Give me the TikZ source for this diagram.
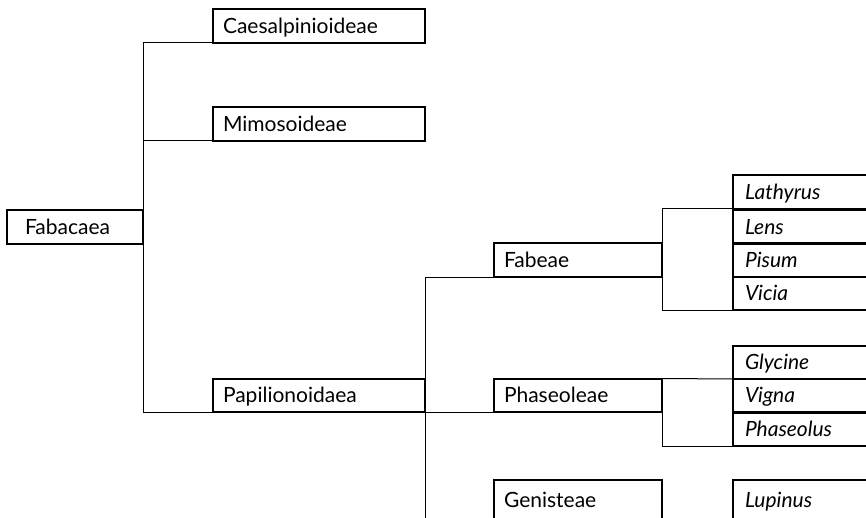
\documentclass[tikz,border=0pt]{standalone}
\usepackage{fontspec}
\setmainfont{Lato}
\tikzset{
  taxon/.style={rectangle, draw=black, line width=2pt, outer sep=0pt, anchor=south west, minimum height=33.5pt, inner ysep=0pt, inner xsep=10pt, text height=18pt, text depth=3.5pt, align=left, font=\fontsize{21}{25}\selectfont},
  wide/.style={taxon, text width=192pt},
  tribe/.style={taxon, text width=148pt},
  genus/.style={taxon, inner xsep=12pt, text width=200pt, font=\fontsize{21}{25}\selectfont\itshape},
  branch/.style={draw=black, line width=1pt}
}

\begin{document}
\begin{tikzpicture}[x=1pt,y=-1pt]
  \useasboundingbox (0,0) rectangle (866,518);
  \clip (0,0) rectangle (866,518);
  \node[taxon, inner xsep=18pt, text width=100pt] (fab) at (7,244) {Fabacaea};
  \node[wide] (caes) at (213,43) {Caesalpinioideae};
  \node[wide] (mimo) at (213,141) {Mimosoideae};
  \node[wide] (papi) at (213,412) {Papilionoidaea};
  \node[tribe] (fabeae) at (494,277) {Fabeae};
  \node[tribe] (phas) at (494,412) {Phaseoleae};
  \node[tribe, anchor=north west, minimum height=40pt] (geni) at (494,480) {Genisteae};
  \node[genus] (lath) at (733,209) {Lathyrus};
  \node[genus] (lens) at (733,244) {Lens};
  \node[genus] (pisum) at (733,277) {Pisum};
  \node[genus] (vicia) at (733,310) {Vicia};
  \node[genus] (glyc) at (733,379) {Glycine};
  \node[genus] (vigna) at (733,412) {Vigna};
  \node[genus] (phaseolus) at (733,446) {Phaseolus};
  \node[genus, anchor=north west, minimum height=40pt] (lup) at (733,480) {Lupinus};
  \draw[branch] (caes.south west) -| (fab.north east);
  \draw[branch] (mimo.south west) -- (mimo.south west -| fab.east);
  \draw[branch] (fab.south east) |- (papi.south west);
  \draw[branch] (fabeae.south west) -| (papi.north east);
  \draw[branch] (phas.south west) -- (papi.south east);
  \draw[branch] (papi.south east) |- (geni.south west);
  \draw[branch] (lath.south west) -| (fabeae.north east);
  \draw[branch] (fabeae.south east) |- (vicia.south west);
  \draw[branch] (glyc.south west) -- (phas.north east);
  \draw[branch] (phas.south east) |- (phaseolus.south west);
\end{tikzpicture}
\end{document}
